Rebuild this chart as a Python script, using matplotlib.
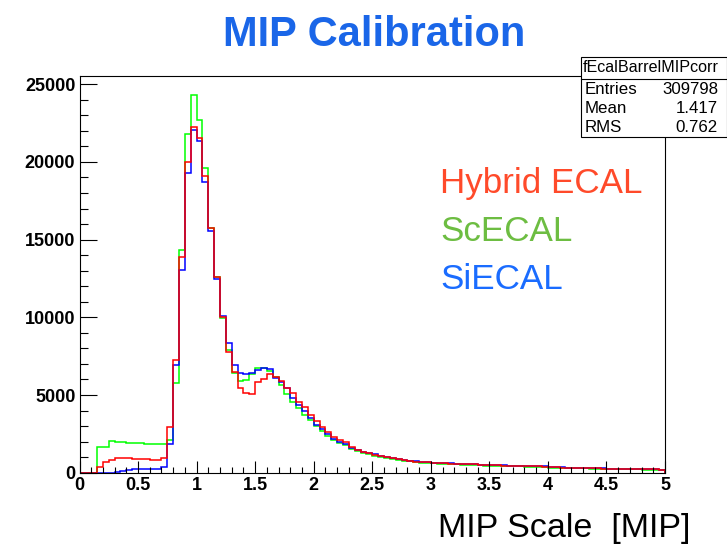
import numpy as np
import matplotlib.pyplot as plt
from matplotlib.patches import Rectangle
from matplotlib.lines import Line2D

# histogram settings (100 bins from 0 to 5 MIP)
nbins, xmin, xmax = 100, 0.0, 5.0

# bin contents
hybrid = [0, 0, 0, 390, 660, 800, 930, 940, 920, 900,
          870, 860, 830, 840, 930, 2920, 7250, 13900, 19980, 22270,
          21520, 19100, 15730, 12620, 10000, 7790, 6500, 5470, 5150, 5040,
          5860, 6030, 6350, 6180, 5900, 5470, 5110, 4570, 4230, 3690,
          3300, 2960, 2620, 2290, 2080, 1950, 1650, 1480, 1350, 1250,
          1150, 1070, 990, 930, 870, 820, 770, 720, 690, 660,
          640, 620, 600, 590, 570, 560, 540, 530, 510, 500,
          490, 470, 460, 450, 440, 430, 420, 410, 400, 390,
          350, 340, 330, 320, 310, 300, 295, 285, 280, 270,
          265, 255, 250, 240, 235, 230, 220, 215, 210, 200]

scecal = [0, 0, 0, 1670, 1670, 2060, 1970, 1950, 1930, 1890,
          1890, 1850, 1820, 1820, 1820, 2100, 5800, 14330, 21780, 24310,
          22700, 19630, 15730, 12600, 9940, 7900, 6440, 5900, 5940, 6350,
          6720, 6760, 6570, 6140, 5640, 5040, 4570, 4140, 3710, 3370,
          2980, 2700, 2370, 2100, 1920, 1780, 1520, 1370, 1250, 1180,
          1100, 1020, 950, 880, 820, 780, 730, 680, 650, 620,
          600, 580, 560, 550, 530, 520, 500, 490, 480, 460,
          450, 440, 430, 420, 410, 400, 390, 380, 370, 360,
          330, 320, 310, 300, 290, 285, 275, 265, 260, 250,
          245, 235, 230, 225, 215, 210, 205, 200, 190, 185]

siecal = [0, 0, 0, 0, 0, 0, 65, 130, 170, 215,
          215, 215, 215, 230, 390, 1870, 6900, 13050, 19310, 22060,
          21370, 18730, 15580, 12470, 10090, 8330, 6930, 6440, 6350, 6440,
          6610, 6720, 6650, 6120, 5860, 5430, 4830, 4360, 3980, 3500,
          3070, 2800, 2500, 2200, 1980, 1850, 1600, 1440, 1320, 1260,
          1220, 1100, 1000, 940, 880, 830, 780, 740, 700, 670,
          650, 630, 610, 600, 580, 570, 550, 540, 520, 510,
          500, 480, 470, 460, 450, 440, 430, 420, 410, 400,
          355, 345, 335, 325, 315, 305, 300, 290, 285, 275,
          270, 260, 255, 245, 240, 235, 225, 220, 215, 205]

labels = ['Hybrid ECAL', 'ScECAL', 'SiECAL']
stat_names = ['Entries', 'Mean', 'RMS']
stat_values = ['309798', '1.417', '0.762']

W, H = 727, 544
def fx(px):
    return px / W
def fy(py):
    return 1 - py / H

plt.rcParams['font.family'] = ['Liberation Sans', 'DejaVu Sans']

fig = plt.figure(figsize=(W / 100, H / 100), dpi=100)
ax = fig.add_axes([fx(79.5), fy(472.7), (665 - 79.5) / W, (472.7 - 75.7) / H])

edges = np.linspace(xmin, xmax, nbins + 1)
ax.stairs(scecal, edges, color='#00ff00', lw=1.1)
ax.stairs(siecal, edges, color='#0000ff', lw=1.1)
ax.stairs(hybrid, edges, color='#ff0000', lw=1.1)

ax.set_xlim(xmin, xmax)
ax.set_ylim(0, 25550)
ax.set_xticks(np.arange(0, 5.01, 0.5))
ax.set_xticks(np.arange(0, 5.01, 0.1), minor=True)
ax.set_yticks(np.arange(0, 25001, 5000))
ax.set_yticks(np.arange(0, 25001, 1000), minor=True)
ax.set_xticklabels(['0', '0.5', '1', '1.5', '2', '2.5', '3', '3.5', '4', '4.5', '5'])
ax.tick_params(axis='x', which='major', direction='in', length=8.6, width=0.8, pad=3)
ax.tick_params(axis='x', which='minor', direction='in', length=4.3, width=0.8)
ax.tick_params(axis='y', which='major', direction='in', length=12.2, width=0.8, pad=3)
ax.tick_params(axis='y', which='minor', direction='in', length=6.1, width=0.8)
for lab in ax.get_xticklabels() + ax.get_yticklabels():
    lab.set_fontsize(13)
    lab.set_fontweight('bold')
for sp in ax.spines.values():
    sp.set_linewidth(0.8)

# title and axis label
fig.text(fx(374.5), fy(46), 'MIP Calibration', color='#1a66e8', fontsize=30,
         fontweight='bold', ha='center', va='baseline')
fig.text(fx(690), fy(537), 'MIP Scale  [MIP]', color='black', fontsize=24.5,
         ha='right', va='baseline')

# coloured labels
label_colors = ['#ff4a2a', '#6dbd42', '#1a6cff']
label_y = [192.7, 240.7, 289.3]
for txt, c, yy in zip(labels, label_colors, label_y):
    fig.text(fx(440.5), fy(yy), txt, color=c, fontsize=25.2, va='baseline')

# stats box
box = Rectangle((fx(580.5), fy(136.7)), (726.5 - 580.5) / W, (136.7 - 56.7) / H,
                transform=fig.transFigure, facecolor='white', edgecolor='black',
                lw=0.8, zorder=5)
fig.add_artist(box)
fig.add_artist(Line2D([fx(580.5), fx(726.5)], [fy(78.5), fy(78.5)],
                      transform=fig.transFigure, color='black', lw=0.8, zorder=6))
fig.text(fx(651), fy(68), 'fEcalBarrelMIPcorr', fontsize=11.6,
         ha='center', va='center', zorder=7)
for name, val, yy in zip(stat_names, stat_values, [90, 108.5, 127.5]):
    fig.text(fx(585), fy(yy), name, fontsize=12.2, ha='left', va='center', zorder=7)
    fig.text(fx(718), fy(yy), val, fontsize=12.2, ha='right', va='center', zorder=7)

fig.savefig('out.png', dpi=100)
